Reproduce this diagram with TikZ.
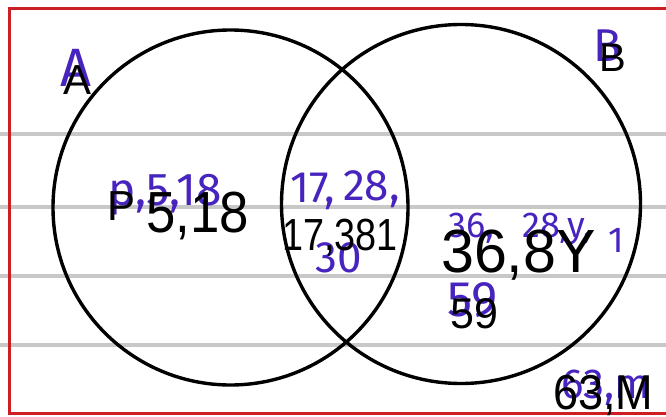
\documentclass[tikz,border=0pt]{standalone}
\usepackage{fontspec}
\setmainfont{Liberation Sans}
\newfontfamily\handfont{Fira Sans}
\definecolor{ink}{RGB}{72,36,190}
\definecolor{ruleg}{RGB}{200,200,200}
\definecolor{frame}{RGB}{205,30,35}
\tikzset{
  typed/.style={inner sep=0pt, anchor=base west, text=black},
  hand/.style={inner sep=0pt, anchor=base west, text=ink},
  ruled/.style={draw=ruleg, line width=4pt},
  setcircle/.style={draw=black, line width=3.4pt},
}
\newcommand{\hf}[1]{\handfont\fontsize{#1}{#1}\selectfont}
\newcommand{\tf}[1]{\fontsize{#1}{#1}\selectfont}
\begin{document}
\begin{tikzpicture}[x=1pt,y=-1pt]
\useasboundingbox (0,0) rectangle (666,417);
\fill[white] (0,0) rectangle (666,417);
% notebook rules
\foreach \yy [count=\i] in {134,207,276,345}{
  \coordinate (rl\i) at (0,\yy);
  \coordinate (rr\i) at (666,\yy);
  \draw[ruled] (rl\i) -- (rr\i);
}
% red frame
\coordinate (ftr) at (666,8.5);
\coordinate (ftl) at (9,8.5);
\coordinate (fbl) at (9,413);
\coordinate (fbr) at (666,413);
\draw[frame, line width=3pt] (ftr) -- (ftl) -- (fbl) -- (fbr);
% circles
\node[setcircle, circle, minimum size=355pt, inner sep=0pt] (cA) at (230.5,207.5) {};
\node[setcircle, circle, minimum size=359pt, inner sep=0pt] (cB) at (461,204) {};
% handwritten (purple)
\node[hand, font=\hf{54}] (hA) at (60,87) {A};
\node[hand, font=\hf{46}] (hB) at (593,62) {B};
\node[hand, font=\hf{46}] (hP) at (108,205) {p,5,18};
\node[hand, font=\hf{44}] (h17) at (290,202) {17,};
\node[hand, font=\hf{44}] (h28) at (343,200) {28,};
\node[hand, font=\hf{44}] (h30) at (315,272) {30};
\node[hand, font=\hf{36}] (h36) at (448,237) {36,};
\node[hand, font=\hf{36}] (h28b) at (522,237) {28,};
\node[hand, font=\hf{36}] (hy) at (567,237) {y,};
\node[hand, font=\hf{36}] (h1) at (608,252) {1};
\node[hand, font=\hf{50}] (h59) at (447,316) {59};
\node[hand, font=\hf{42}] (h63) at (561,398) {63,m};
% typed (black)
\node[typed, font=\tf{42}] (tA) at (63,95) {A};
\node[typed, font=\tf{40}] (tB) at (599,72) {B};
\node[typed, font=\tf{42}] (tP) at (107,220) {P};
\node[typed, font=\tf{58}, xscale=0.91] (t518) at (146,232) {5,18};
\node[typed, font=\tf{45}, xscale=0.84] (t17) at (282,250) {17,381};
\node[typed, font=\tf{61}, xscale=0.97] (t36) at (441,272) {36,8Y};
\node[typed, font=\tf{43}] (t59) at (450,328) {59};
\node[typed, font=\tf{49}, xscale=0.92] (t63) at (553,409) {63,M};
\end{tikzpicture}
\end{document}
